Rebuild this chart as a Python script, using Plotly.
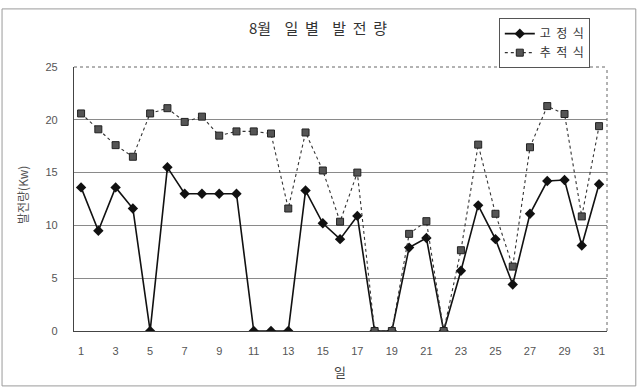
import plotly.graph_objects as go

# Daily generation for August (kW)
days = list(range(1, 32))
fixed_kw = [13.6, 9.5, 13.6, 11.6, 0, 15.5, 13.0, 13.0, 13.0, 13.0,
            0, 0, 0, 13.3, 10.2, 8.7, 10.9, 0, 0, 7.9,
            8.8, 0, 5.7, 11.9, 8.7, 4.4, 11.1, 14.2, 14.3, 8.1, 13.9]
tracking_kw = [20.6, 19.1, 17.6, 16.5, 20.6, 21.1, 19.8, 20.3, 18.5, 18.9,
               18.9, 18.7, 11.6, 18.8, 15.2, 10.35, 15.0, 0, 0, 9.2,
               10.4, 0, 7.65, 17.65, 11.1, 6.1, 17.4, 21.3, 20.55, 10.85, 19.4]
x_ticks = list(range(1, 32, 2))
y_ticks = [0, 5, 10, 15, 20, 25]

KR = "Noto Sans CJK KR"
LAT = "Liberation Sans, Arial, sans-serif"
NB = "\u00a0"


def spaced(word, gap=1):
    """Spread the characters of a word apart with non-breaking spaces."""
    return (NB * gap).join(word)


fig = go.Figure()
fig.add_trace(go.Scatter(
    x=days, y=fixed_kw, name=spaced("고정식", 2), mode="lines+markers",
    line=dict(color="#111111", width=1.6),
    marker=dict(symbol="diamond", size=8, color="#111111"),
))
fig.add_trace(go.Scatter(
    x=days, y=tracking_kw, name=spaced("추적식", 2), mode="lines+markers",
    line=dict(color="#333333", width=1.1, dash="dot"),
    marker=dict(symbol="square", size=7, color="#555555",
                line=dict(color="#222222", width=1)),
))

title_text = (NB * 4).join([spaced("8월", 0), spaced("일별", 2), spaced("발전량", 2)])

fig.update_layout(
    width=640, height=389,
    margin=dict(l=74, r=33, t=67, b=58),
    paper_bgcolor="white", plot_bgcolor="white",
    showlegend=True,
    legend=dict(
        x=0.797, y=1.185, xanchor="left", yanchor="top",
        bordercolor="#555555", borderwidth=1, bgcolor="white",
        font=dict(family=KR, size=12, color="#333333"),
        tracegroupgap=0, itemwidth=30,
    ),
    xaxis=dict(
        range=[0.59, 31.46], tickmode="array", tickvals=x_ticks,
        showgrid=False, zeroline=False,
        showline=True, linecolor="#444444", linewidth=1.2,
        ticks="", ticklabelstandoff=10,
        tickfont=dict(family=LAT, size=11, color="#555555"),
    ),
    yaxis=dict(
        range=[0, 25], tickmode="array", tickvals=y_ticks,
        showgrid=True, gridcolor="#8a8a8a", gridwidth=1,
        zeroline=False,
        showline=True, linecolor="#444444", linewidth=1.2,
        ticks="", ticklabelstandoff=13,
        tickfont=dict(family=LAT, size=11, color="#555555"),
    ),
    shapes=[
        # outer chart frame
        dict(type="rect", xref="paper", yref="paper",
             x0=-0.135, x1=1.054, y0=-0.208, y1=1.22,
             line=dict(color="#9a9a9a", width=1)),
        # dotted top and right edges of the plot area
        dict(type="line", xref="paper", yref="paper", x0=0, x1=1, y0=1, y1=1,
             line=dict(color="#666666", width=1, dash="dot")),
        dict(type="line", xref="paper", yref="paper", x0=1, x1=1, y0=0, y1=1,
             line=dict(color="#666666", width=1, dash="dot")),
    ],
    annotations=[
        dict(text=title_text, xref="paper", yref="paper",
             x=0.458, y=1.148, showarrow=False, xanchor="center", yanchor="middle",
             font=dict(family=KR, size=15, color="#333333")),
        dict(text="발전량(Kw)", xref="paper", yref="paper",
             x=-0.0976, y=0.515, showarrow=False, textangle=-90,
             xanchor="center", yanchor="middle",
             font=dict(family=KR, size=12, color="#555555")),
        dict(text="일", xref="paper", yref="paper",
             x=0.499, y=-0.155, showarrow=False, xanchor="center", yanchor="middle",
             font=dict(family=KR, size=13, color="#444444")),
    ],
)

fig.write_html("out.html")
